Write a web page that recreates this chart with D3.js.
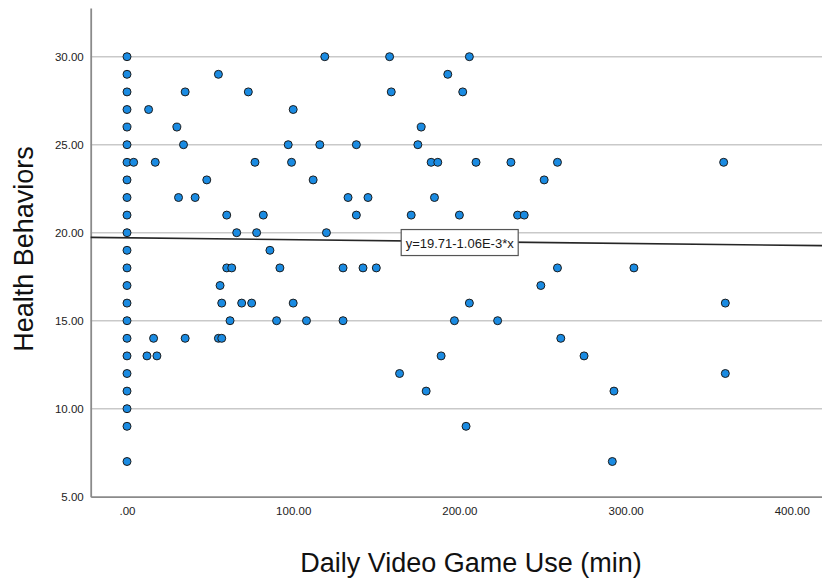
<!DOCTYPE html>
<html>
<head>
<meta charset="utf-8">
<script src="https://cdn.jsdelivr.net/npm/d3@7"></script>
<style>
  html, body { margin: 0; padding: 0; background: #fff; }
  svg { display: block; font-family: "Liberation Sans", Arial, sans-serif; }
</style>
</head>
<body>
<svg id="chart" width="822" height="581"></svg>
<script>
// Daily video game use (minutes) against health behaviour score
const gameUse = [
  0, 0, 0, 0, 0, 0, 0, 0, 0, 0, 0, 0, 0, 0, 0, 0, 0, 0, 0, 0, 0, 0, 0,
  55, 35, 73, 13, 30, 34, 4, 17, 77, 48, 31, 41,
  119, 158, 206, 193, 159, 202, 100, 177, 97, 116, 138, 175, 99, 183, 187, 210, 231, 112, 251, 133, 145, 185,
  259, 359,
  60, 82, 66, 78, 86, 60, 63, 92, 56, 57, 69, 75, 62, 90, 16, 35, 55, 57, 12, 18,
  138, 171, 200, 235, 239, 120, 130, 142, 150, 249, 100, 206, 108, 130, 197, 223, 189, 164, 180, 204,
  259, 305, 360, 261, 275, 360, 293, 292
];
const healthScore = [
  30, 29, 28, 27, 26, 25, 24, 23, 22, 21, 20, 19, 18, 17, 16, 15, 14, 13, 12, 11, 10, 9, 7,
  29, 28, 28, 27, 26, 25, 24, 24, 24, 23, 22, 22,
  30, 30, 30, 29, 28, 28, 27, 26, 25, 25, 25, 25, 24, 24, 24, 24, 24, 23, 23, 22, 22, 22,
  24, 24,
  21, 21, 20, 20, 19, 18, 18, 18, 17, 16, 16, 16, 15, 15, 14, 14, 14, 14, 13, 13,
  21, 21, 21, 21, 21, 20, 18, 18, 18, 17, 16, 16, 15, 15, 15, 15, 13, 12, 11, 9,
  18, 18, 16, 14, 13, 12, 11, 7
];
const xTicks = [0, 100, 200, 300, 400];
const yTicks = [5, 10, 15, 20, 25, 30];

// Fit line as reported
const fitIntercept = 19.71;
const fitSlope = -1.06e-3;
const fitLabel = "y=19.71-1.06E-3*x";

const xTitle = "Daily Video Game Use (min)";
const yTitle = "Health Behaviors";

const points = gameUse.map((g, i) => ({ x: g, y: healthScore[i] }));

const svg = d3.select("#chart");
const plotLeft = 90.7, plotRight = 822, plotTop = 8, plotBottom = 496.7;

const x = d3.scaleLinear().domain([0, 400]).range([127, 127 + 4 * 166.2]);
x.domain([x.invert(plotLeft), x.invert(plotRight)]).range([plotLeft, plotRight]);
const y = d3.scaleLinear().domain([5, 30]).range([plotBottom, 56.7]);
y.domain([5, y.invert(plotTop)]).range([plotBottom, plotTop]);

const tickFmt = v => {
  const s = d3.format(".2f")(v);
  return s.startsWith("0.") ? s.slice(1) : s;
};

// Horizontal grid lines
svg.append("g")
  .selectAll("line")
  .data(yTicks.filter(t => t > 5))
  .join("line")
  .attr("x1", plotLeft).attr("x2", plotRight)
  .attr("y1", d => y(d)).attr("y2", d => y(d))
  .attr("stroke", "#c9c9c9")
  .attr("stroke-width", 1.6);

// Axes
const yAxis = svg.append("g")
  .attr("transform", `translate(${plotLeft},0)`)
  .call(d3.axisLeft(y).tickValues(yTicks).tickFormat(tickFmt).tickSize(0).tickPadding(7));
const xAxis = svg.append("g")
  .attr("transform", `translate(0,${plotBottom})`)
  .call(d3.axisBottom(x).tickValues(xTicks).tickFormat(tickFmt).tickSize(0).tickPadding(10));

[yAxis, xAxis].forEach(a => {
  a.select(".domain").attr("stroke", "#8a8a8a").attr("stroke-width", 1.8);
  a.selectAll("text")
    .attr("font-family", "'Liberation Sans', Arial, sans-serif")
    .attr("font-size", 11.5)
    .attr("fill", "#222");
});
yAxis.selectAll("text").attr("dy", "0.35em");

// Fit line
svg.append("line")
  .attr("x1", plotLeft).attr("x2", plotRight)
  .attr("y1", y(fitIntercept + fitSlope * x.invert(plotLeft)))
  .attr("y2", y(fitIntercept + fitSlope * x.invert(plotRight)))
  .attr("stroke", "#262626")
  .attr("stroke-width", 1.6);

// Points
svg.append("g")
  .selectAll("circle")
  .data(points)
  .join("circle")
  .attr("cx", d => x(d.x))
  .attr("cy", d => y(d.y))
  .attr("r", 4)
  .attr("fill", "#1a8be2")
  .attr("stroke", "#1c1c1c")
  .attr("stroke-width", 1);

// Fit equation label
const lblX = 459.7, lblY = y(fitIntercept + fitSlope * x.invert(459.7));
const lbl = svg.append("g");
lbl.append("rect")
  .attr("x", lblX - 58.5).attr("y", lblY - 12)
  .attr("width", 117).attr("height", 26)
  .attr("fill", "#fff")
  .attr("stroke", "#555")
  .attr("stroke-width", 1.2);
lbl.append("text")
  .attr("x", lblX).attr("y", lblY + 6)
  .attr("text-anchor", "middle")
  .attr("font-size", 13)
  .attr("fill", "#1a1a1a")
  .text(fitLabel);

// Axis titles
svg.append("text")
  .attr("x", 471).attr("y", 572)
  .attr("text-anchor", "middle")
  .attr("font-size", 27)
  .attr("fill", "#111")
  .text(xTitle);
svg.append("text")
  .attr("transform", "translate(33,249) rotate(-90)")
  .attr("text-anchor", "middle")
  .attr("font-size", 27)
  .attr("fill", "#111")
  .text(yTitle);
</script>
</body>
</html>
